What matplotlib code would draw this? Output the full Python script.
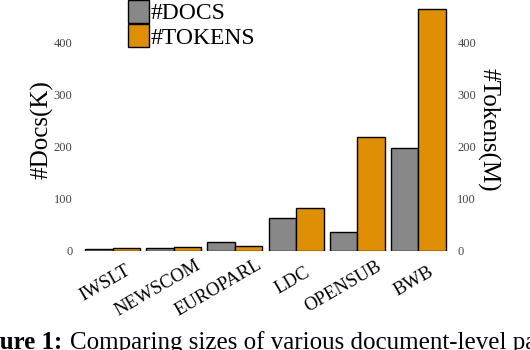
import matplotlib
matplotlib.use('Agg')
import matplotlib.pyplot as plt
import matplotlib.transforms as mtransforms
import numpy as np

corpora = ['IWSLT', 'NEWSCOM', 'EUROPARL', 'LDC', 'OPENSUB', 'BWB']
docs_k = [2, 5, 16, 62, 36, 197]
tokens_m = [4, 7, 9, 82, 218, 464]
yticks = [0, 100, 200, 300, 400]
caption_bold = 'Figure 1:'
caption_rest = 'Comparing sizes of various document-level parallel corpora.'

plt.rcParams['font.family'] = ['Liberation Serif', 'DejaVu Serif']

W, H = 530, 350
fig = plt.figure(figsize=(W / 100, H / 100), dpi=100)
ax = fig.add_axes([82 / W, 1 - 250.5 / H, 367 / W, 242.3 / H])

x = np.arange(len(corpora))
bw = 0.45
ax.bar(x - bw / 2, docs_k, bw, color='#888888', edgecolor='black', linewidth=1.0, label='#DOCS')
ax.bar(x + bw / 2, tokens_m, bw, color='#de8f05', edgecolor='black', linewidth=1.0, label='#TOKENS')
ax.set_xlim(-0.5, len(corpora) - 0.5)
ax.set_ylim(0, 466)

ax2 = ax.twinx()
ax2.set_ylim(ax.get_ylim())
for a in (ax, ax2):
    for s in a.spines.values():
        s.set_visible(False)
    a.set_yticks(yticks)
    a.tick_params(axis='y', length=0, labelsize=9, labelcolor='#444444')
ax.tick_params(axis='y', pad=7)
ax2.tick_params(axis='y', pad=6)

ax.set_xticks(x)
ax.set_xticklabels(corpora, rotation=30, ha='right', va='top', rotation_mode='anchor', fontsize=13.5)
ax.tick_params(axis='x', length=0, pad=13)

ax.set_ylabel('#Docs(K)', fontsize=18, va='center')
ax.yaxis.set_label_coords(-0.109, 0.5)
ax2.set_ylabel('#Tokens(M)', fontsize=18, rotation=270, va='center')
ax2.yaxis.set_label_coords(1.106, 0.5)

ax.legend(loc='upper left', bbox_to_anchor=(128 / W, 1.0), bbox_transform=fig.transFigure,
          frameon=False, fontsize=17, handlelength=0.87, handleheight=1.1,
          handletextpad=0.1, labelspacing=0, borderpad=0, borderaxespad=0)

fig.canvas.draw()
renderer = fig.canvas.get_renderer()

# slide the rotated labels so the tick sits about a quarter in from the right end
ang = np.deg2rad(30)
for lbl in ax.get_xticklabels():
    L, _, _ = renderer.get_text_width_height_descent(lbl.get_text(), lbl.get_fontproperties(), ismath=False)
    s = 0.25 * L
    off = mtransforms.ScaledTranslation(s * np.cos(ang) / 100, s * np.sin(ang) / 100, fig.dpi_scale_trans)
    lbl.set_transform(lbl.get_transform() + off)

# caption, cut off at the left and bottom like the reference
cap = fig.text(0, 1.5 / H, caption_bold, fontsize=18, fontweight='bold', va='baseline')
fw, _, _ = renderer.get_text_width_height_descent('Fig', cap.get_fontproperties(), ismath=False)
cap.set_x(-fw / W)
fig.canvas.draw()
bb = cap.get_window_extent(renderer)
fig.text((bb.x1 + 7) / W, 1.5 / H, caption_rest, fontsize=18, va='baseline')

fig.savefig('out.png', dpi=100)
